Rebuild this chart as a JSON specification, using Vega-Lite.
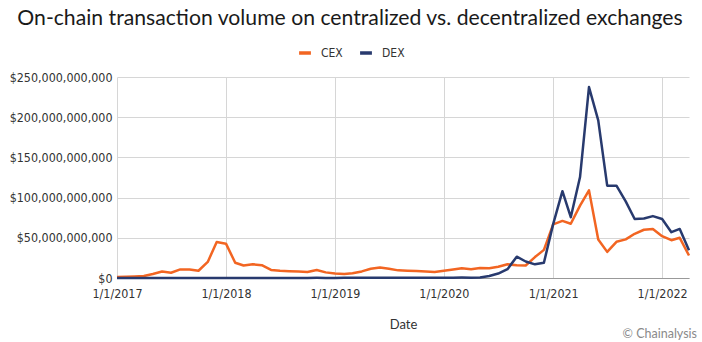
{
  "$schema": "https://vega.github.io/schema/vega-lite/v6.json",
  "padding": {"left": 9, "top": 7, "right": 4, "bottom": 4},
  "background": "white",
  "title": {
    "text": "On-chain transaction volume on centralized vs. decentralized exchanges",
    "anchor": "middle",
    "frame": "group",
    "font": "Lato",
    "fontSize": 21.2,
    "fontWeight": "normal",
    "color": "#1a1a1a",
    "offset": 16,
    "dx": -53
  },
  "config": {
    "view": {"stroke": null},
    "legend": {"labelFont": "DejaVu Sans Condensed", "labelFontSize": 12, "labelColor": "#333"}
  },
  "bounds": "flush",
  "vconcat": [
    {
      "width": 572,
      "height": 201,
      "title": {
        "text": "© Chainalysis",
        "orient": "bottom",
        "anchor": "end",
        "frame": "group",
        "font": "Lato",
        "fontSize": 12.5,
        "fontWeight": "normal",
        "color": "#8a8a8a",
        "offset": -3,
        "dx": 8
      },
      "data": {
        "format": {"parse": {"date": "date:'%Y-%m-%d'"}},
        "values": [
          {"date": "2017-01-01", "exchange": "CEX", "volume": 1200000000},
          {"date": "2017-02-01", "exchange": "CEX", "volume": 1500000000},
          {"date": "2017-03-01", "exchange": "CEX", "volume": 2000000000},
          {"date": "2017-04-01", "exchange": "CEX", "volume": 2500000000},
          {"date": "2017-05-01", "exchange": "CEX", "volume": 5000000000},
          {"date": "2017-06-01", "exchange": "CEX", "volume": 8000000000},
          {"date": "2017-07-01", "exchange": "CEX", "volume": 6500000000},
          {"date": "2017-08-01", "exchange": "CEX", "volume": 10700000000},
          {"date": "2017-09-01", "exchange": "CEX", "volume": 10700000000},
          {"date": "2017-10-01", "exchange": "CEX", "volume": 9000000000},
          {"date": "2017-11-01", "exchange": "CEX", "volume": 20000000000},
          {"date": "2017-12-01", "exchange": "CEX", "volume": 44800000000},
          {"date": "2018-01-01", "exchange": "CEX", "volume": 42700000000},
          {"date": "2018-02-01", "exchange": "CEX", "volume": 19000000000},
          {"date": "2018-03-01", "exchange": "CEX", "volume": 15500000000},
          {"date": "2018-04-01", "exchange": "CEX", "volume": 17000000000},
          {"date": "2018-05-01", "exchange": "CEX", "volume": 16000000000},
          {"date": "2018-06-01", "exchange": "CEX", "volume": 10000000000},
          {"date": "2018-07-01", "exchange": "CEX", "volume": 9000000000},
          {"date": "2018-08-01", "exchange": "CEX", "volume": 8500000000},
          {"date": "2018-09-01", "exchange": "CEX", "volume": 8000000000},
          {"date": "2018-10-01", "exchange": "CEX", "volume": 7500000000},
          {"date": "2018-11-01", "exchange": "CEX", "volume": 10000000000},
          {"date": "2018-12-01", "exchange": "CEX", "volume": 7000000000},
          {"date": "2019-01-01", "exchange": "CEX", "volume": 5500000000},
          {"date": "2019-02-01", "exchange": "CEX", "volume": 5000000000},
          {"date": "2019-03-01", "exchange": "CEX", "volume": 6000000000},
          {"date": "2019-04-01", "exchange": "CEX", "volume": 8200000000},
          {"date": "2019-05-01", "exchange": "CEX", "volume": 11500000000},
          {"date": "2019-06-01", "exchange": "CEX", "volume": 13000000000},
          {"date": "2019-07-01", "exchange": "CEX", "volume": 11500000000},
          {"date": "2019-08-01", "exchange": "CEX", "volume": 9500000000},
          {"date": "2019-09-01", "exchange": "CEX", "volume": 9000000000},
          {"date": "2019-10-01", "exchange": "CEX", "volume": 8700000000},
          {"date": "2019-11-01", "exchange": "CEX", "volume": 8000000000},
          {"date": "2019-12-01", "exchange": "CEX", "volume": 7500000000},
          {"date": "2020-01-01", "exchange": "CEX", "volume": 9000000000},
          {"date": "2020-02-01", "exchange": "CEX", "volume": 10500000000},
          {"date": "2020-03-01", "exchange": "CEX", "volume": 12000000000},
          {"date": "2020-04-01", "exchange": "CEX", "volume": 11000000000},
          {"date": "2020-05-01", "exchange": "CEX", "volume": 12500000000},
          {"date": "2020-06-01", "exchange": "CEX", "volume": 12000000000},
          {"date": "2020-07-01", "exchange": "CEX", "volume": 14000000000},
          {"date": "2020-08-01", "exchange": "CEX", "volume": 17000000000},
          {"date": "2020-09-01", "exchange": "CEX", "volume": 16000000000},
          {"date": "2020-10-01", "exchange": "CEX", "volume": 15500000000},
          {"date": "2020-11-01", "exchange": "CEX", "volume": 26000000000},
          {"date": "2020-12-01", "exchange": "CEX", "volume": 35000000000},
          {"date": "2021-01-01", "exchange": "CEX", "volume": 66700000000},
          {"date": "2021-02-01", "exchange": "CEX", "volume": 71000000000},
          {"date": "2021-03-01", "exchange": "CEX", "volume": 67500000000},
          {"date": "2021-04-01", "exchange": "CEX", "volume": 90000000000},
          {"date": "2021-05-01", "exchange": "CEX", "volume": 109000000000},
          {"date": "2021-06-01", "exchange": "CEX", "volume": 48000000000},
          {"date": "2021-07-01", "exchange": "CEX", "volume": 32500000000},
          {"date": "2021-08-01", "exchange": "CEX", "volume": 45000000000},
          {"date": "2021-09-01", "exchange": "CEX", "volume": 48000000000},
          {"date": "2021-10-01", "exchange": "CEX", "volume": 55000000000},
          {"date": "2021-11-01", "exchange": "CEX", "volume": 60000000000},
          {"date": "2021-12-01", "exchange": "CEX", "volume": 61000000000},
          {"date": "2022-01-01", "exchange": "CEX", "volume": 52000000000},
          {"date": "2022-02-01", "exchange": "CEX", "volume": 47000000000},
          {"date": "2022-03-01", "exchange": "CEX", "volume": 50000000000},
          {"date": "2022-04-01", "exchange": "CEX", "volume": 28000000000},
          {"date": "2017-01-01", "exchange": "DEX", "volume": 10000000},
          {"date": "2017-02-01", "exchange": "DEX", "volume": 15000000},
          {"date": "2017-03-01", "exchange": "DEX", "volume": 20000000},
          {"date": "2017-04-01", "exchange": "DEX", "volume": 30000000},
          {"date": "2017-05-01", "exchange": "DEX", "volume": 40000000},
          {"date": "2017-06-01", "exchange": "DEX", "volume": 60000000},
          {"date": "2017-07-01", "exchange": "DEX", "volume": 60000000},
          {"date": "2017-08-01", "exchange": "DEX", "volume": 70000000},
          {"date": "2017-09-01", "exchange": "DEX", "volume": 80000000},
          {"date": "2017-10-01", "exchange": "DEX", "volume": 80000000},
          {"date": "2017-11-01", "exchange": "DEX", "volume": 100000000},
          {"date": "2017-12-01", "exchange": "DEX", "volume": 150000000},
          {"date": "2018-01-01", "exchange": "DEX", "volume": 150000000},
          {"date": "2018-02-01", "exchange": "DEX", "volume": 120000000},
          {"date": "2018-03-01", "exchange": "DEX", "volume": 110000000},
          {"date": "2018-04-01", "exchange": "DEX", "volume": 120000000},
          {"date": "2018-05-01", "exchange": "DEX", "volume": 130000000},
          {"date": "2018-06-01", "exchange": "DEX", "volume": 120000000},
          {"date": "2018-07-01", "exchange": "DEX", "volume": 130000000},
          {"date": "2018-08-01", "exchange": "DEX", "volume": 140000000},
          {"date": "2018-09-01", "exchange": "DEX", "volume": 150000000},
          {"date": "2018-10-01", "exchange": "DEX", "volume": 150000000},
          {"date": "2018-11-01", "exchange": "DEX", "volume": 160000000},
          {"date": "2018-12-01", "exchange": "DEX", "volume": 150000000},
          {"date": "2019-01-01", "exchange": "DEX", "volume": 150000000},
          {"date": "2019-02-01", "exchange": "DEX", "volume": 160000000},
          {"date": "2019-03-01", "exchange": "DEX", "volume": 180000000},
          {"date": "2019-04-01", "exchange": "DEX", "volume": 200000000},
          {"date": "2019-05-01", "exchange": "DEX", "volume": 220000000},
          {"date": "2019-06-01", "exchange": "DEX", "volume": 250000000},
          {"date": "2019-07-01", "exchange": "DEX", "volume": 240000000},
          {"date": "2019-08-01", "exchange": "DEX", "volume": 230000000},
          {"date": "2019-09-01", "exchange": "DEX", "volume": 220000000},
          {"date": "2019-10-01", "exchange": "DEX", "volume": 220000000},
          {"date": "2019-11-01", "exchange": "DEX", "volume": 230000000},
          {"date": "2019-12-01", "exchange": "DEX", "volume": 250000000},
          {"date": "2020-01-01", "exchange": "DEX", "volume": 300000000},
          {"date": "2020-02-01", "exchange": "DEX", "volume": 450000000},
          {"date": "2020-03-01", "exchange": "DEX", "volume": 500000000},
          {"date": "2020-04-01", "exchange": "DEX", "volume": 450000000},
          {"date": "2020-05-01", "exchange": "DEX", "volume": 700000000},
          {"date": "2020-06-01", "exchange": "DEX", "volume": 2500000000},
          {"date": "2020-07-01", "exchange": "DEX", "volume": 5500000000},
          {"date": "2020-08-01", "exchange": "DEX", "volume": 11000000000},
          {"date": "2020-09-01", "exchange": "DEX", "volume": 26500000000},
          {"date": "2020-10-01", "exchange": "DEX", "volume": 20500000000},
          {"date": "2020-11-01", "exchange": "DEX", "volume": 17000000000},
          {"date": "2020-12-01", "exchange": "DEX", "volume": 19000000000},
          {"date": "2021-01-01", "exchange": "DEX", "volume": 67000000000},
          {"date": "2021-02-01", "exchange": "DEX", "volume": 108000000000},
          {"date": "2021-03-01", "exchange": "DEX", "volume": 75600000000},
          {"date": "2021-04-01", "exchange": "DEX", "volume": 125600000000},
          {"date": "2021-05-01", "exchange": "DEX", "volume": 237500000000},
          {"date": "2021-06-01", "exchange": "DEX", "volume": 196000000000},
          {"date": "2021-07-01", "exchange": "DEX", "volume": 114800000000},
          {"date": "2021-08-01", "exchange": "DEX", "volume": 114800000000},
          {"date": "2021-09-01", "exchange": "DEX", "volume": 95300000000},
          {"date": "2021-10-01", "exchange": "DEX", "volume": 73400000000},
          {"date": "2021-11-01", "exchange": "DEX", "volume": 74000000000},
          {"date": "2021-12-01", "exchange": "DEX", "volume": 77000000000},
          {"date": "2022-01-01", "exchange": "DEX", "volume": 73400000000},
          {"date": "2022-02-01", "exchange": "DEX", "volume": 57000000000},
          {"date": "2022-03-01", "exchange": "DEX", "volume": 61000000000},
          {"date": "2022-04-01", "exchange": "DEX", "volume": 34500000000}
        ]
      },
      "mark": {"type": "line", "strokeWidth": 2.5, "strokeJoin": "round"},
      "encoding": {
        "x": {
          "field": "date",
          "type": "temporal",
          "scale": {"nice": false},
          "axis": {
            "values": [
              {"year": 2017, "month": 1, "date": 1},
              {"year": 2018, "month": 1, "date": 1},
              {"year": 2019, "month": 1, "date": 1},
              {"year": 2020, "month": 1, "date": 1},
              {"year": 2021, "month": 1, "date": 1},
              {"year": 2022, "month": 1, "date": 1}
            ],
            "format": "%-m/%-d/%Y",
            "labelFont": "DejaVu Sans Condensed",
            "labelFontSize": 12.4,
            "labelColor": "#333",
            "labelPadding": 9,
            "labelFlush": false,
            "labelOverlap": false,
            "grid": true,
            "gridColor": "#d6d6d6",
            "ticks": false,
            "domain": true,
            "domainColor": "#999",
            "title": "Date",
            "titleFont": "Lato",
            "titleFontSize": 13,
            "titleFontWeight": "normal",
            "titleColor": "#333",
            "titlePadding": 19
          }
        },
        "y": {
          "field": "volume",
          "type": "quantitative",
          "scale": {"domain": [0, 250000000000], "nice": false},
          "axis": {
            "values": [0, 50000000000, 100000000000, 150000000000, 200000000000, 250000000000],
            "format": "$,.0f",
            "labelFont": "DejaVu Sans Condensed",
            "labelFontSize": 12.4,
            "labelColor": "#333",
            "labelPadding": 5,
            "grid": true,
            "gridColor": "#d6d6d6",
            "ticks": false,
            "domain": false,
            "title": null
          }
        },
        "color": {
          "field": "exchange",
          "type": "nominal",
          "scale": {"domain": ["CEX", "DEX"], "range": ["#F26522", "#283A6E"]},
          "legend": {
            "title": null,
            "orient": "none",
            "direction": "horizontal",
            "legendX": 180,
            "legendY": -32,
            "symbolType": "stroke",
            "symbolStrokeWidth": 3.5,
            "symbolSize": 140,
            "columnPadding": 10,
            "labelOffset": 8
          }
        }
      }
    }
  ]
}
